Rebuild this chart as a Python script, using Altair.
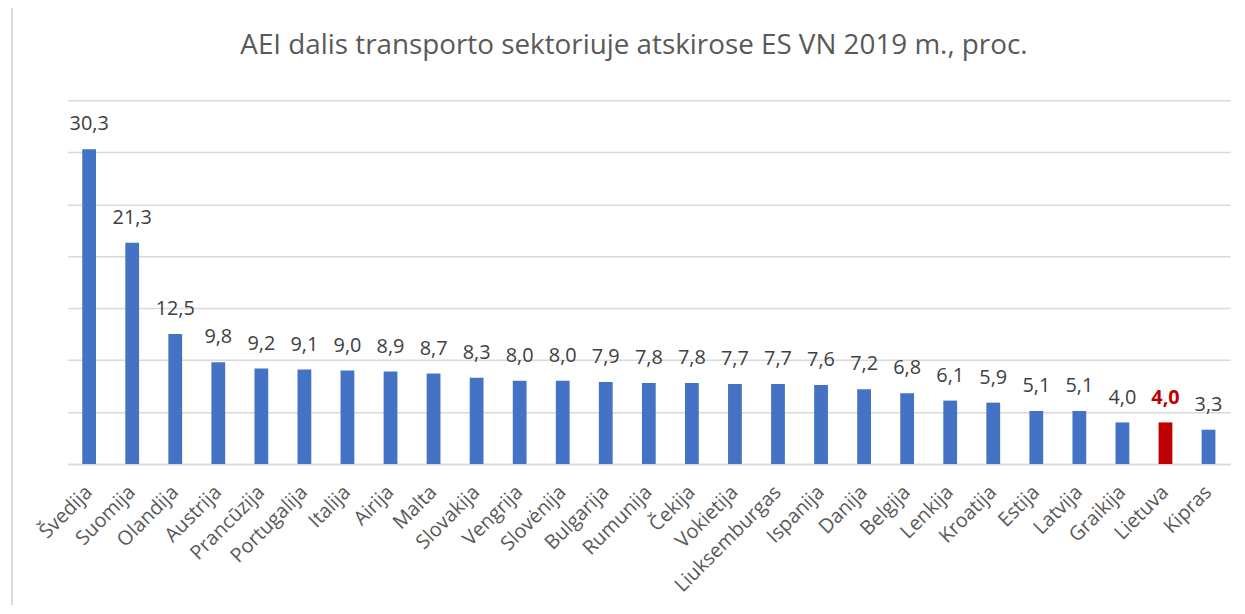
import altair as alt
import pandas as pd

countries = ["Švedija", "Suomija", "Olandija", "Austrija", "Prancūzija", "Portugalija",
             "Italija", "Airija", "Malta", "Slovakija", "Vengrija", "Slovėnija",
             "Bulgarija", "Rumunija", "Čekija", "Vokietija", "Liuksemburgas", "Ispanija",
             "Danija", "Belgija", "Lenkija", "Kroatija", "Estija", "Latvija",
             "Graikija", "Lietuva", "Kipras"]
values = [30.3, 21.3, 12.5, 9.8, 9.2, 9.1, 9.0, 8.9, 8.7, 8.3, 8.0, 8.0, 7.9, 7.8,
          7.8, 7.7, 7.7, 7.6, 7.2, 6.8, 6.1, 5.9, 5.1, 5.1, 4.0, 4.0, 3.3]
highlight = "Lietuva"

df = pd.DataFrame({"country": countries, "value": values})
df["label"] = df["value"].map(lambda v: f"{v:.1f}".replace(".", ","))
df["hl"] = df["country"] == highlight

FONT = "Open Sans"

x = alt.X("country:N", sort=countries, title=None,
          scale=alt.Scale(paddingInner=0.68, paddingOuter=0.34),
          axis=alt.Axis(labelAngle=-45, labelAlign="right", labelBaseline="middle",
                        labelFontSize=20, labelColor="#595959", labelFont=FONT,
                        labelPadding=25, ticks=False, domainColor="#d9d9d9",
                        domainWidth=1.5, labelOverlap=False))
y = alt.Y("value:Q", title=None,
          scale=alt.Scale(domain=[0, 35], nice=False),
          axis=alt.Axis(values=[0, 5, 10, 15, 20, 25, 30, 35], labels=False, ticks=False,
                        domain=False, gridColor="#d9d9d9", gridWidth=1.5))

bars = alt.Chart(df).mark_bar().encode(
    x=x, y=y,
    color=alt.Color("hl:N", scale=alt.Scale(domain=[False, True],
                                            range=["#4472C4", "#C00000"]), legend=None),
)

labels = alt.Chart(df).mark_text(dy=-25, fontSize=20, font=FONT, color="#404040").encode(
    x=alt.X("country:N", sort=countries),
    y="value:Q",
    text="label:N",
).transform_filter("!datum.hl")

labels_hl = alt.Chart(df).mark_text(dy=-25, fontSize=20, font=FONT, color="#C00000",
                                    fontWeight="bold").encode(
    x=alt.X("country:N", sort=countries),
    y="value:Q",
    text="label:N",
).transform_filter("datum.hl")

frame = alt.Chart(df).mark_rule(color="#d9d9d9", strokeWidth=2).encode(
    x=alt.value(-56), y=alt.value(-100), y2=alt.value(520)
)

chart = alt.layer(bars, labels, labels_hl, frame).properties(
    width=1170, height=366,
    autosize=alt.AutoSizeParams(type="none"),
    padding={"left": 60, "top": 91, "right": 7, "bottom": 140},
    title=alt.TitleParams("AEI dalis transporto sektoriuje atskirose ES VN 2019 m., proc.",
                          font=FONT, fontSize=28, fontWeight="normal", color="#595959",
                          anchor="middle", offset=-60, dx=-15),
).configure_view(stroke=None)

chart.save("out.html", embed_options={"renderer": "svg", "actions": False})
